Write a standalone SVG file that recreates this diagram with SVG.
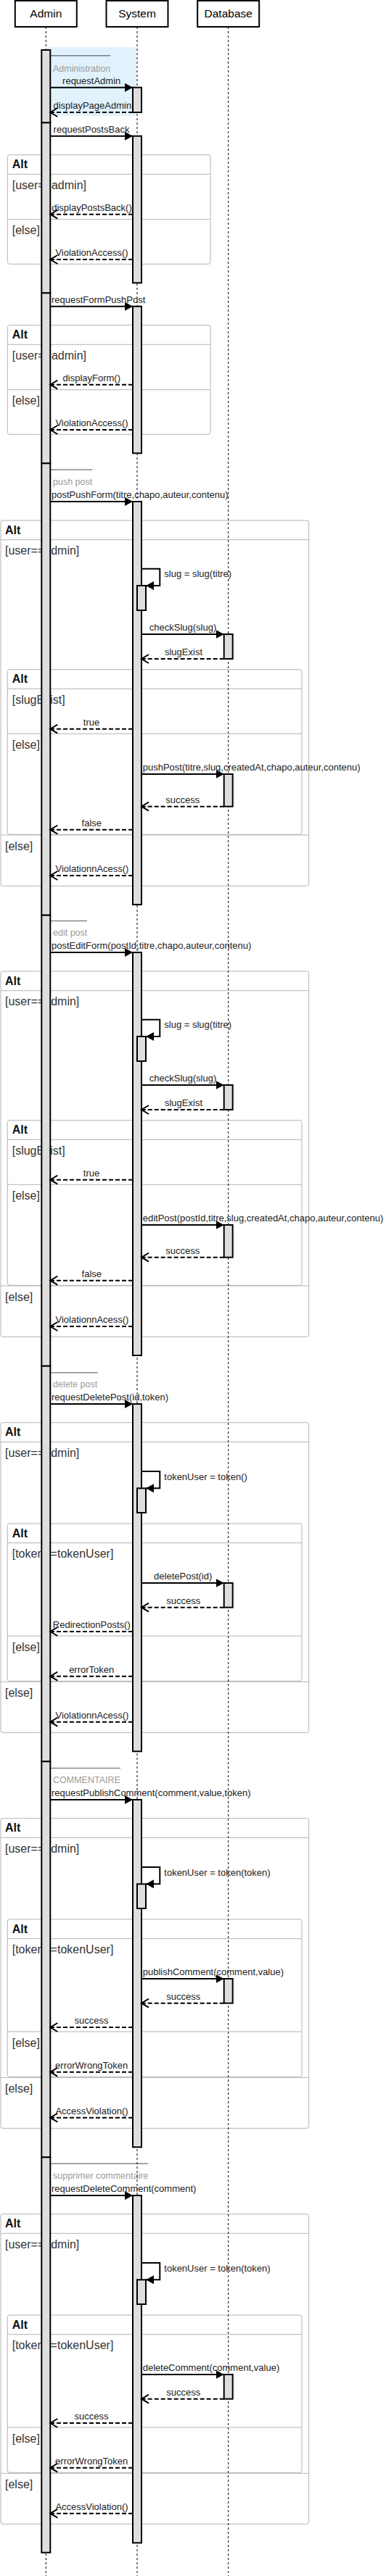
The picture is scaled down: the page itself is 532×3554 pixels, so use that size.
<svg xmlns="http://www.w3.org/2000/svg" width="532" height="3554" viewBox="0 0 532 3554">
<style>
text{font-family:"Liberation Sans",Arial,Helvetica,sans-serif}
.life{stroke:#000;stroke-width:1;stroke-dasharray:3 3;fill:none}
.act{fill:#dedede;stroke:#000;stroke-width:2}
.frame{fill:none;stroke:#b3b3b3;stroke-width:1}
.sep{stroke:#b3b3b3;stroke-width:1}
.hdrbox{fill:#fff;stroke:#000;stroke-width:2}
.hdr{font-size:15.5px;fill:#000;text-anchor:middle}
.alt{font-size:16px;font-weight:bold;fill:#111}
.guard{font-size:16px;fill:#333}
.lbl{font-size:13px;fill:#222}
.c{text-anchor:middle}
.note{font-size:12.5px;fill:#9a9a9a}
.nline{stroke:#888;stroke-width:1.5}
.call{stroke:#000;stroke-width:2;fill:none;marker-end:url(#fa)}
.ret{stroke:#000;stroke-width:2;fill:none;stroke-dasharray:6 3;marker-end:url(#oa)}
</style>
<defs>
<marker id="fa" markerUnits="userSpaceOnUse" markerWidth="12" markerHeight="12" refX="11" refY="6" orient="auto"><path d="M0,0 L11,6 L0,12 z" fill="#000"/></marker>
<marker id="oa" markerUnits="userSpaceOnUse" markerWidth="14" markerHeight="14" refX="12" refY="7" orient="auto"><path d="M2,1 L12,7 L2,13" fill="none" stroke="#000" stroke-width="2" stroke-dasharray="none"/></marker>
</defs>
<rect width="532" height="3554" fill="#fff"/>

<!-- notes -->
<g id="note-administration">
<rect x="64" y="65" width="124" height="95" rx="4" fill="#e1f2fc"/>
<line x1="68" y1="76.7" x2="152.3" y2="76.7" stroke="#6f7f8c" stroke-width="1.5"/>
<text class="note" x="73" y="99">Administration</text>
</g>
<g id="note-push-post"><line class="nline" x1="68" y1="648" x2="127.3" y2="648"/><text class="note" x="73" y="669.3">push post</text></g>
<g id="note-edit-post"><line class="nline" x1="68" y1="1270.5" x2="120" y2="1270.5"/><text class="note" x="73" y="1291.3">edit post</text></g>
<g id="note-delete-post"><line class="nline" x1="68" y1="1893.7" x2="134.7" y2="1893.7"/><text class="note" x="73" y="1914.3">delete post</text></g>
<g id="note-commentaire"><line class="nline" x1="68" y1="2439.5" x2="166" y2="2439.5"/><text class="note" x="73" y="2460.3">COMMENTAIRE</text></g>
<g id="note-supprimer"><line class="nline" x1="68" y1="2985" x2="204" y2="2985"/><text class="note" x="73" y="3006.3">supprimer commentaire</text></g>

<!-- frames -->
<g id="alt-1">
<rect class="frame" x="10.3" y="213.7" width="279.7" height="150.6" rx="3"/>
<line class="sep" x1="10.3" y1="240.3" x2="290" y2="240.3"/>
<line class="sep" x1="10.3" y1="302.7" x2="290" y2="302.7"/>
<text class="alt" x="16.7" y="232.3">Alt</text>
<text class="guard" x="16.7" y="261">[user==admin]</text>
<text class="guard" x="16.7" y="323.3">[else]</text>
</g>
<g id="alt-2">
<rect class="frame" x="10.3" y="448.7" width="279.7" height="150.6" rx="3"/>
<line class="sep" x1="10.3" y1="475.3" x2="290" y2="475.3"/>
<line class="sep" x1="10.3" y1="537.7" x2="290" y2="537.7"/>
<text class="alt" x="16.7" y="467.3">Alt</text>
<text class="guard" x="16.7" y="496">[user==admin]</text>
<text class="guard" x="16.7" y="558.3">[else]</text>
</g>
<g id="alt-3">
<rect class="frame" x="1" y="718" width="424.7" height="504.3" rx="3"/>
<line class="sep" x1="1" y1="744.7" x2="425.7" y2="744.7"/>
<line class="sep" x1="1" y1="1152" x2="425.7" y2="1152"/>
<text class="alt" x="7" y="736.5">Alt</text>
<text class="guard" x="7" y="765.3">[user==admin]</text>
<text class="guard" x="7" y="1173">[else]</text>
</g>
<g id="alt-3b">
<rect class="frame" x="10.3" y="923.7" width="405.7" height="227.6" rx="3"/>
<line class="sep" x1="10.3" y1="950.3" x2="416" y2="950.3"/>
<line class="sep" x1="10.3" y1="1012.3" x2="416" y2="1012.3"/>
<text class="alt" x="16.7" y="942">Alt</text>
<text class="guard" x="16.7" y="971.3">[slugExist]</text>
<text class="guard" x="16.7" y="1033">[else]</text>
</g>
<g id="alt-4">
<rect class="frame" x="1" y="1340" width="424.7" height="504.3" rx="3"/>
<line class="sep" x1="1" y1="1366.7" x2="425.7" y2="1366.7"/>
<line class="sep" x1="1" y1="1774" x2="425.7" y2="1774"/>
<text class="alt" x="7" y="1358.5">Alt</text>
<text class="guard" x="7" y="1387.3">[user==admin]</text>
<text class="guard" x="7" y="1795">[else]</text>
</g>
<g id="alt-4b">
<rect class="frame" x="10.3" y="1545.7" width="405.7" height="227.6" rx="3"/>
<line class="sep" x1="10.3" y1="1572.3" x2="416" y2="1572.3"/>
<line class="sep" x1="10.3" y1="1634.3" x2="416" y2="1634.3"/>
<text class="alt" x="16.7" y="1564">Alt</text>
<text class="guard" x="16.7" y="1593.3">[slugExist]</text>
<text class="guard" x="16.7" y="1655">[else]</text>
</g>
<g id="alt-5">
<rect class="frame" x="1" y="1962.7" width="424.7" height="427.6" rx="3"/>
<line class="sep" x1="1" y1="1989.3" x2="425.7" y2="1989.3"/>
<line class="sep" x1="1" y1="2320.3" x2="425.7" y2="2320.3"/>
<text class="alt" x="7" y="1981.2">Alt</text>
<text class="guard" x="7" y="2010">[user==admin]</text>
<text class="guard" x="7" y="2341">[else]</text>
</g>
<g id="alt-5b">
<rect class="frame" x="10.3" y="2102" width="405.7" height="217.3" rx="3"/>
<line class="sep" x1="10.3" y1="2128.7" x2="416" y2="2128.7"/>
<line class="sep" x1="10.3" y1="2257" x2="416" y2="2257"/>
<text class="alt" x="16.7" y="2120.5">Alt</text>
<text class="guard" x="16.7" y="2148.7">[token==tokenUser]</text>
<text class="guard" x="16.7" y="2277.7">[else]</text>
</g>
<g id="alt-6">
<rect class="frame" x="1" y="2508.7" width="424.7" height="427.6" rx="3"/>
<line class="sep" x1="1" y1="2535.3" x2="425.7" y2="2535.3"/>
<line class="sep" x1="1" y1="2866.3" x2="425.7" y2="2866.3"/>
<text class="alt" x="7" y="2527.2">Alt</text>
<text class="guard" x="7" y="2556">[user==admin]</text>
<text class="guard" x="7" y="2887">[else]</text>
</g>
<g id="alt-6b">
<rect class="frame" x="10.3" y="2648" width="405.7" height="217.3" rx="3"/>
<line class="sep" x1="10.3" y1="2674.7" x2="416" y2="2674.7"/>
<line class="sep" x1="10.3" y1="2803" x2="416" y2="2803"/>
<text class="alt" x="16.7" y="2666.5">Alt</text>
<text class="guard" x="16.7" y="2694.7">[token==tokenUser]</text>
<text class="guard" x="16.7" y="2823.7">[else]</text>
</g>
<g id="alt-7">
<rect class="frame" x="1" y="3054.7" width="424.7" height="427.6" rx="3"/>
<line class="sep" x1="1" y1="3081.3" x2="425.7" y2="3081.3"/>
<line class="sep" x1="1" y1="3412.3" x2="425.7" y2="3412.3"/>
<text class="alt" x="7" y="3073.2">Alt</text>
<text class="guard" x="7" y="3102">[user==admin]</text>
<text class="guard" x="7" y="3433">[else]</text>
</g>
<g id="alt-7b">
<rect class="frame" x="10.3" y="3194" width="405.7" height="217.3" rx="3"/>
<line class="sep" x1="10.3" y1="3220.7" x2="416" y2="3220.7"/>
<line class="sep" x1="10.3" y1="3349" x2="416" y2="3349"/>
<text class="alt" x="16.7" y="3212.5">Alt</text>
<text class="guard" x="16.7" y="3240.7">[token==tokenUser]</text>
<text class="guard" x="16.7" y="3369.7">[else]</text>
</g>

<!-- participants with lifelines and activations -->
<g id="admin">
<rect class="hdrbox" x="20.8" y="1" width="85" height="36"/>
<text class="hdr" x="63.3" y="24">Admin</text>
<line class="life" x1="63.3" y1="37" x2="63.3" y2="3554"/>
<rect class="act" x="57.3" y="69" width="12" height="100.3"/>
<rect class="act" x="57.3" y="169.3" width="12" height="235"/>
<rect class="act" x="57.3" y="404.3" width="12" height="235"/>
<rect class="act" x="57.3" y="639.3" width="12" height="623.4"/>
<rect class="act" x="57.3" y="1262.7" width="12" height="622"/>
<rect class="act" x="57.3" y="1884.7" width="12" height="545.6"/>
<rect class="act" x="57.3" y="2430.3" width="12" height="546"/>
<rect class="act" x="57.3" y="2976.3" width="12" height="545.4"/>
</g>
<g id="system">
<rect class="hdrbox" x="146.5" y="1" width="85" height="36"/>
<text class="hdr" x="189" y="24">System</text>
<line class="life" x1="189" y1="37" x2="189" y2="3554"/>
<rect class="act" x="183" y="120.7" width="12" height="34.3"/>
<rect class="act" x="183" y="187.7" width="12" height="202.6"/>
<rect class="act" x="183" y="422.7" width="12" height="202.6"/>
<rect class="act" x="183" y="692" width="12" height="556"/>
<rect class="act" x="183" y="1314" width="12" height="556"/>
<rect class="act" x="183" y="1937" width="12" height="479.3"/>
<rect class="act" x="183" y="2483" width="12" height="479.3"/>
<rect class="act" x="183" y="3029" width="12" height="479.3"/>
<rect class="act" x="189" y="808" width="12" height="34"/>
<rect class="act" x="189" y="1430" width="12" height="34"/>
<rect class="act" x="189" y="2053.3" width="12" height="33.7"/>
<rect class="act" x="189" y="2599.3" width="12" height="33.7"/>
<rect class="act" x="189" y="3145.3" width="12" height="33.7"/>
</g>
<g id="database">
<rect class="hdrbox" x="272.2" y="1" width="85" height="36"/>
<text class="hdr" x="314.7" y="24">Database</text>
<line class="life" x1="314.7" y1="37" x2="314.7" y2="3554"/>
<rect class="act" x="308.7" y="875" width="12" height="34"/>
<rect class="act" x="308.7" y="1068" width="12" height="44.7"/>
<rect class="act" x="308.7" y="1497" width="12" height="34"/>
<rect class="act" x="308.7" y="1690" width="12" height="44.7"/>
<rect class="act" x="308.7" y="2184" width="12" height="33.7"/>
<rect class="act" x="308.7" y="2730" width="12" height="33.7"/>
<rect class="act" x="308.7" y="3276" width="12" height="33.7"/>
</g>

<g id="connectors">
<!-- section 1 -->
<line class="call" x1="69.3" y1="120.7" x2="183" y2="120.7"/>
<text class="lbl c" x="126.2" y="115.7">requestAdmin</text>
<line class="ret" x1="183" y1="155" x2="69.3" y2="155"/>
<text class="lbl c" x="127.3" y="150">displayPageAdmin</text>
<line class="call" x1="69.3" y1="187.7" x2="183" y2="187.7"/>
<text class="lbl c" x="126" y="182.7">requestPostsBack</text>
<line class="ret" x1="183" y1="295.7" x2="69.3" y2="295.7"/>
<text class="lbl c" x="126.5" y="290.7">displayPostsBack()</text>
<line class="ret" x1="183" y1="358" x2="69.3" y2="358"/>
<text class="lbl c" x="126.5" y="353">ViolationAccess()</text>
<!-- section 2 -->
<line class="call" x1="69.3" y1="422.7" x2="183" y2="422.7"/>
<text class="lbl" x="71" y="417.7">requestFormPushPost</text>
<line class="ret" x1="183" y1="530.7" x2="69.3" y2="530.7"/>
<text class="lbl c" x="126.3" y="525.7">displayForm()</text>
<line class="ret" x1="183" y1="593" x2="69.3" y2="593"/>
<text class="lbl c" x="126.5" y="588">ViolationAccess()</text>
<!-- section 3 -->
<line class="call" x1="69.3" y1="692" x2="183" y2="692"/>
<text class="lbl" x="71" y="687">postPushForm(titre,chapo,auteur,contenu)</text>
<path class="call" d="M195,784.7 H220.3 V808 H201"/>
<text class="lbl" x="226.3" y="796.3">slug = slug(titre)</text>
<line class="call" x1="195" y1="875" x2="308.7" y2="875"/>
<text class="lbl c" x="252" y="870">checkSlug(slug)</text>
<line class="ret" x1="308.7" y1="909" x2="195" y2="909"/>
<text class="lbl c" x="253" y="904">slugExist</text>
<line class="ret" x1="183" y1="1005.7" x2="69.3" y2="1005.7"/>
<text class="lbl c" x="126" y="1000.7">true</text>
<line class="call" x1="195" y1="1068" x2="308.7" y2="1068"/>
<text class="lbl" x="196.7" y="1063">pushPost(titre,slug,createdAt,chapo,auteur,contenu)</text>
<line class="ret" x1="308.7" y1="1112.7" x2="195" y2="1112.7"/>
<text class="lbl c" x="251.7" y="1107.7">success</text>
<line class="ret" x1="183" y1="1144.7" x2="69.3" y2="1144.7"/>
<text class="lbl c" x="126.3" y="1139.7">false</text>
<line class="ret" x1="183" y1="1208" x2="69.3" y2="1208"/>
<text class="lbl c" x="127" y="1203">ViolationnAcess()</text>
<!-- section 4 -->
<line class="call" x1="69.3" y1="1314" x2="183" y2="1314"/>
<text class="lbl" x="71" y="1309">postEditForm(postId,titre,chapo,auteur,contenu)</text>
<path class="call" d="M195,1406.7 H220.3 V1430 H201"/>
<text class="lbl" x="226.3" y="1418.3">slug = slug(titre)</text>
<line class="call" x1="195" y1="1497" x2="308.7" y2="1497"/>
<text class="lbl c" x="252" y="1492">checkSlug(slug)</text>
<line class="ret" x1="308.7" y1="1531" x2="195" y2="1531"/>
<text class="lbl c" x="253" y="1526">slugExist</text>
<line class="ret" x1="183" y1="1627.7" x2="69.3" y2="1627.7"/>
<text class="lbl c" x="126" y="1622.7">true</text>
<line class="call" x1="195" y1="1690" x2="308.7" y2="1690"/>
<text class="lbl" x="196.7" y="1685">editPost(postId,titre,slug,createdAt,chapo,auteur,contenu)</text>
<line class="ret" x1="308.7" y1="1734.7" x2="195" y2="1734.7"/>
<text class="lbl c" x="251.7" y="1729.7">success</text>
<line class="ret" x1="183" y1="1766.7" x2="69.3" y2="1766.7"/>
<text class="lbl c" x="126.3" y="1761.7">false</text>
<line class="ret" x1="183" y1="1830" x2="69.3" y2="1830"/>
<text class="lbl c" x="127" y="1825">ViolationnAcess()</text>
<!-- section 5 -->
<line class="call" x1="69.3" y1="1937" x2="183" y2="1937"/>
<text class="lbl" x="71" y="1932">requestDeletePost(id,token)</text>
<path class="call" d="M195,2030 H220.3 V2053.3 H201"/>
<text class="lbl" x="226.3" y="2041.7">tokenUser = token()</text>
<line class="call" x1="195" y1="2184" x2="308.7" y2="2184"/>
<text class="lbl c" x="252.2" y="2179">deletePost(id)</text>
<line class="ret" x1="308.7" y1="2217.7" x2="195" y2="2217.7"/>
<text class="lbl c" x="252.7" y="2212.7">success</text>
<line class="ret" x1="183" y1="2251" x2="69.3" y2="2251"/>
<text class="lbl c" x="126.3" y="2246">RedirectionPosts()</text>
<line class="ret" x1="183" y1="2312.7" x2="69.3" y2="2312.7"/>
<text class="lbl c" x="126.2" y="2307.7">errorToken</text>
<line class="ret" x1="183" y1="2375.7" x2="69.3" y2="2375.7"/>
<text class="lbl c" x="127" y="2370.7">ViolationnAcess()</text>
<!-- section 6 -->
<line class="call" x1="69.3" y1="2483" x2="183" y2="2483"/>
<text class="lbl" x="71" y="2478">requestPublishComment(comment,value,token)</text>
<path class="call" d="M195,2576 H220.3 V2599.3 H201"/>
<text class="lbl" x="226.3" y="2587.7">tokenUser = token(token)</text>
<line class="call" x1="195" y1="2730" x2="308.7" y2="2730"/>
<text class="lbl" x="196.7" y="2725">publishComment(comment,value)</text>
<line class="ret" x1="308.7" y1="2763.7" x2="195" y2="2763.7"/>
<text class="lbl c" x="252.7" y="2758.7">success</text>
<line class="ret" x1="183" y1="2797" x2="69.3" y2="2797"/>
<text class="lbl c" x="126" y="2792">success</text>
<line class="ret" x1="183" y1="2858.7" x2="69.3" y2="2858.7"/>
<text class="lbl c" x="126.2" y="2853.7">errorWrongToken</text>
<line class="ret" x1="183" y1="2921.7" x2="69.3" y2="2921.7"/>
<text class="lbl c" x="126.5" y="2916.7">AccessViolation()</text>
<!-- section 7 -->
<line class="call" x1="69.3" y1="3029" x2="183" y2="3029"/>
<text class="lbl" x="71" y="3024">requestDeleteComment(comment)</text>
<path class="call" d="M195,3122 H220.3 V3145.3 H201"/>
<text class="lbl" x="226.3" y="3133.7">tokenUser = token(token)</text>
<line class="call" x1="195" y1="3276" x2="308.7" y2="3276"/>
<text class="lbl" x="196.7" y="3271">deleteComment(comment,value)</text>
<line class="ret" x1="308.7" y1="3309.7" x2="195" y2="3309.7"/>
<text class="lbl c" x="252.7" y="3304.7">success</text>
<line class="ret" x1="183" y1="3343" x2="69.3" y2="3343"/>
<text class="lbl c" x="126" y="3338">success</text>
<line class="ret" x1="183" y1="3404.7" x2="69.3" y2="3404.7"/>
<text class="lbl c" x="126.2" y="3399.7">errorWrongToken</text>
<line class="ret" x1="183" y1="3467.7" x2="69.3" y2="3467.7"/>
<text class="lbl c" x="126.5" y="3462.7">AccessViolation()</text>
</g>
</svg>
